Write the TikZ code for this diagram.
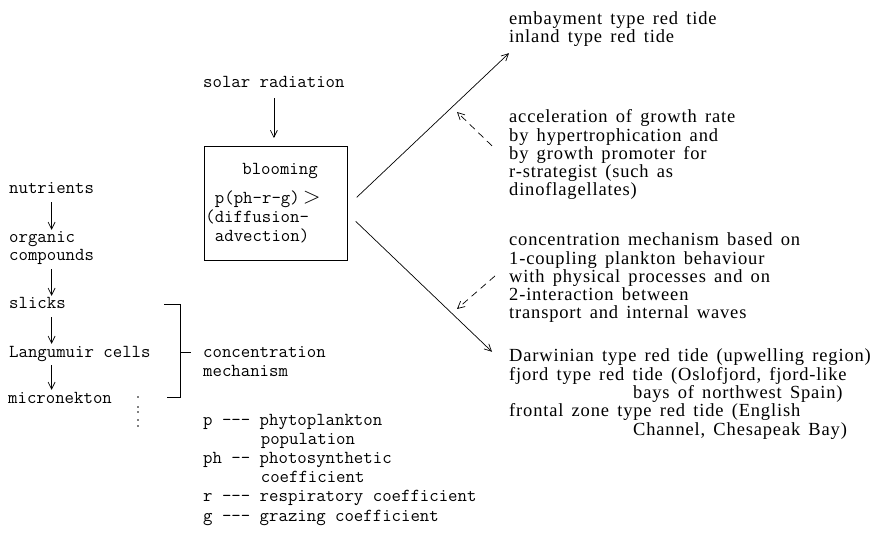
\documentclass[tikz,border=0pt]{standalone}
\usepackage{fontspec}
\usetikzlibrary{arrows.meta}
\newfontfamily\tidefont[LetterSpace=4.5,WordSpace=1.5]{Liberation Serif}

\begin{document}
\begin{tikzpicture}[x=1pt,y=-1pt,
    tt/.style={font=\ttfamily\fontsize{18.3}{18}\selectfont, anchor=base west, align=left},
    word/.style={tt, text height=11pt, text depth=4pt},
    tide/.style={font=\tidefont\fontsize{18.5}{18.3}\selectfont, anchor=base west, align=left},
    bloombox/.style={tt, draw, line width=0.7pt, anchor=north west, text width=141pt,
      minimum height=114pt, inner xsep=1pt, font=\ttfamily\fontsize{18.3}{19}\selectfont},
    arrowline/.style={-{Straight Barb[length=7pt,width=7pt]}, line width=0.7pt},
    flow/.style={arrowline, shorten <=4pt, shorten >=2pt},
    dashline/.style={arrowline, dash pattern=on 7pt off 5pt}]
  \tikzstyle{every node}+=[inner sep=0pt]
  \useasboundingbox (0,0) rectangle (875,534);

  % growth: solar radiation into the blooming box
  \node[word] (solar) at (203,88) {solar radiation};
  \node[bloombox] (bloom) at (204,146) {\hspace*{37pt}blooming\\[10pt]\hspace*{0.525em}p(ph-r-g)\,\scalebox{1.35}{$>$}\\(diffusion-\\\hspace*{0.525em}advection)};
  \draw[flow, shorten <=6pt, shorten >=8pt] (solar.south) -- (solar.south |- bloom.north);

  % chain on the left (multi-line nodes sit on their last line)
  \node[word] (nutr) at (9,194) {nutrients};
  \node[tt] (orgc) at (9,261) {organic\\compounds};
  \node[word] (slk) at (9,309) {slicks};
  \node[word] (lang) at (9,357) {Langumuir cells};
  \node[word] (micro) at (8,403) {micronekton};
  \draw[flow] (nutr.south) -- (orgc.north);
  \draw[flow] (orgc.south) -- (slk.north -| orgc.south);
  \draw[flow] (slk.south -| orgc.south) -- (lang.north -| orgc.south);
  \draw[flow] (lang.south -| orgc.south) -- (micro.north -| orgc.south);
  \foreach \y in {397,407,412,420,426}
    \fill (138,\y) circle (0.8);

  % bracket
  \node[tt] (conc) at (203,376) {concentration\\mechanism};
  \draw[line width=0.7pt] (164,304) -- (180,304) -- (180,397) -- (167,397);
  \draw[line width=0.7pt] (180,352) -- (191,352);

  % symbols
  \node[tt, font=\ttfamily\fontsize{18.3}{19.2}\selectfont] (legend) at (203,521)
    {p -{}-{}- phytoplankton\\\hspace*{3.15em}population\\ph -{}- photosynthetic\\\hspace*{3.15em}coefficient\\r -{}-{}- respiratory coefficient\\g -{}-{}- grazing coefficient};

  % red tide types
  \node[tide] (bay) at (509,43) {embayment type red tide\\inland type red tide};
  \node[tide] (accel) at (509,196) {acceleration of growth rate\\by hypertrophication and\\by growth promoter for\\r-strategist (such as\\dinoflagellates)};
  \node[tide] (mech) at (509,319) {concentration mechanism based on\\1-coupling plankton behaviour\\with physical processes and on\\2-interaction between\\transport and internal waves};
  \node[tide] (darw) at (509,435) {Darwinian type red tide (upwelling region)\\fjord type red tide (Oslofjord, fjord-like\\\hspace*{124pt}bays of northwest Spain)\\frontal zone type red tide (English\\\hspace*{124pt}Channel, Chesapeak Bay)};

  \draw[arrowline] ([shift={(9,-6)}]bloom.east) -- ([shift={(0,6)}]bay.south west);
  \draw[arrowline] ([shift={(8,18)}]bloom.east) -- ([shift={(-17,3)}]darw.north west);

  \coordinate (uphint) at (457,112);
  \coordinate (lowhint) at (457,309);
  \draw[dashline] ([shift={(-17,-9)}]accel.west) -- (uphint);
  \draw[dashline] ([shift={(-14,-2)}]mech.west) -- (lowhint);
\end{tikzpicture}
\end{document}
